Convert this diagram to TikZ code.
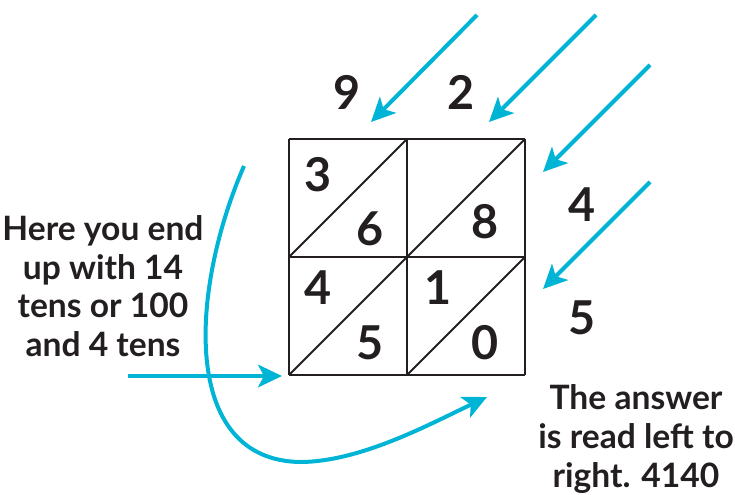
\documentclass[tikz,border=0pt]{standalone}
\usepackage{fontspec}
\setmainfont{Lato}
\usetikzlibrary{arrows.meta}
\definecolor{lattcyan}{HTML}{00B4D6}
\definecolor{lattink}{HTML}{231F20}
\tikzset{
  gridline/.style = {lattink, line width=2pt},
  diagline/.style = {lattink, line width=1.4pt},
  digit/.style    = {lattink, font=\fontsize{35}{35}\selectfont\bfseries, inner sep=0pt},
  note/.style     = {lattink, font=\fontsize{25.2}{29}\selectfont\bfseries, align=center, inner sep=0pt},
  pointer/.style  = {lattcyan, line width=3pt, -{Stealth[length=18pt,width=17pt,inset=4.5pt]}},
}
\begin{document}
\begin{tikzpicture}[x=0.75pt, y=-0.75pt]
\useasboundingbox (0,0) rectangle (735,494);

% ── Lattice: 2x2 cells, corner at (289,139), cell size \C ─────
\def\X{289}
\def\Y{139}
\def\C{118}
\foreach \i in {0,1,2}{
  \draw[gridline] (\X+\i*\C,\Y) -- (\X+\i*\C,\Y+2*\C);
  \draw[gridline] (\X,\Y+\i*\C) -- (\X+2*\C,\Y+\i*\C);
}
% one diagonal per cell, bottom left to top right
\foreach \i in {0,1}{
  \foreach \j in {0,1}{
    \draw[diagline] (\X+\i*\C,\Y+\j*\C+\C) -- (\X+\i*\C+\C,\Y+\j*\C);
  }
}

% ── Factors: 92 on top, 45 down the right side ────────────────
\node[digit] (top9)   at (347,92)  {9};
\node[digit] (top2)   at (461,92)  {2};
\node[digit] (side4)  at (582,205) {4};
\node[digit] (side5)  at (582,318) {5};

% ── Partial products in the cells ─────────────────────────────
\node[digit] (c3) at (318,175) {3};
\node[digit] (c6) at (370,229) {6};
\node[digit] (c8) at (485,222) {8};
\node[digit] (c4) at (318,288) {4};
\node[digit] (c5) at (370,343) {5};
\node[digit] (c1) at (438,288) {1};
\node[digit] (c0) at (485,343) {0};

% ── Notes ─────────────────────────────────────────────────────
\node[note] (tens) at (103,286) {Here you end\\up with 14\\tens or 100\\and 4 tens};
\node[note] (answer) at (636,439) {The answer\\is read left to\\right. 4140};

% ── Diagonal pointers (adding along the diagonals) ────────────
\coordinate (d1s) at (477,15);  \coordinate (d1e) at (371,122);
\coordinate (d2s) at (596,15);  \coordinate (d2e) at (489,122);
\coordinate (d3s) at (650,65);  \coordinate (d3e) at (543,172);
\coordinate (d4s) at (650,182); \coordinate (d4e) at (543,289);
\foreach \k in {1,2,3,4}{
  \draw[pointer] (d\k s) -- (d\k e);
}

% ── Carry pointer and reading pointer ─────────────────────────
\coordinate (carrys) at (128,376);
\coordinate (carrye) at (282,376);
\draw[pointer] (carrys) -- (carrye);

\coordinate (reads) at (244,166);
\coordinate (readm) at (300,462);
\coordinate (reade) at (487,397);
\draw[pointer] (reads) .. controls (190,290) and (180,460) .. (readm)
  .. controls (360,462) and (430,424) .. (reade);

\end{tikzpicture}
\end{document}
